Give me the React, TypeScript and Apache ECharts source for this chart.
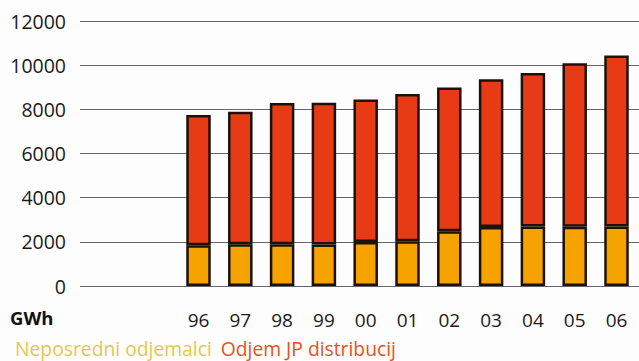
import React, { useEffect, useRef } from "react";
import * as echarts from "echarts";

const years = ["96", "97", "98", "99", "00", "01", "02", "03", "04", "05", "06"];
const neposredni = [1840, 1890, 1890, 1880, 1990, 2030, 2480, 2670, 2690, 2680, 2700];
const odjemJP = [5900, 6000, 6400, 6420, 6450, 6660, 6510, 6690, 6950, 7410, 7740];
const yTicks = [0, 2000, 4000, 6000, 8000, 10000, 12000];
const unitLabel = "GWh";
const seriesNames = ["Neposredni odjemalci", "Odjem JP distribucij"];

export default function App() {
  const ref = useRef<HTMLDivElement>(null);
  useEffect(() => {
    if (!ref.current) return;
    const chart = echarts.init(ref.current, null, { renderer: "svg" });
    const font = "'Open Sans', sans-serif";
    const yMax = yTicks[yTicks.length - 1];
    chart.setOption({
      animation: false,
      backgroundColor: "#fdfdfd",
      textStyle: { fontFamily: font },
      grid: [
        { left: 80, right: 0, top: 21, bottom: 75 },
        { left: 177.6, right: 1.6, top: 21, bottom: 75 },
      ],
      legend: {
        left: 10,
        top: 338,
        padding: 0,
        itemWidth: 0,
        itemHeight: 0,
        itemGap: 4,
        selectedMode: false,
        data: [
          { name: seriesNames[0], icon: "none", textStyle: { color: "#e3c84e" } },
          { name: seriesNames[1], icon: "none", textStyle: { color: "#e6521f" } },
        ],
        textStyle: { fontFamily: font, fontSize: 19.3, lineHeight: 20, padding: [0, 0, 0, 0] },
      },
      xAxis: [
        { type: "category", gridIndex: 0, data: years, show: false },
        {
          type: "category",
          gridIndex: 1,
          data: years,
          axisLine: { show: false },
          axisTick: { show: false },
          axisLabel: { color: "#1a1a1a", fontSize: 19, fontFamily: font, margin: 24 },
        },
      ],
      yAxis: [
        {
          type: "value",
          gridIndex: 0,
          min: 0,
          max: yMax,
          interval: 2000,
          axisLine: { show: false },
          axisTick: { show: false },
          axisLabel: {
            color: "#1a1a1a",
            fontSize: 19.5,
            fontFamily: font,
            margin: 14,
            formatter: (v: number) => String(v),
          },
          splitLine: { lineStyle: { color: "#66646c", width: 1 } },
        },
        {
          type: "value",
          gridIndex: 1,
          min: 0,
          max: yMax,
          interval: 2000,
          show: false,
          splitLine: { show: false },
        },
      ],
      graphic: [
        {
          type: "text",
          left: 10,
          top: 308,
          style: { text: unitLabel, fontFamily: font, fontWeight: "bold", fontSize: 18.5, fill: "#111" },
        },
      ],
      series: [
        {
          name: seriesNames[0],
          type: "bar",
          stack: "total",
          xAxisIndex: 1,
          yAxisIndex: 1,
          barWidth: 24.5,
          data: neposredni,
          itemStyle: { color: "#f6a300", borderColor: "#1c1208", borderWidth: 2.5 },
        },
        {
          name: seriesNames[1],
          type: "bar",
          stack: "total",
          xAxisIndex: 1,
          yAxisIndex: 1,
          barWidth: 24.5,
          data: odjemJP,
          itemStyle: { color: "#e63b14", borderColor: "#1c1208", borderWidth: 2.5 },
        },
      ],
    });
    return () => chart.dispose();
  }, []);
  return <div ref={ref} style={{ width: 639, height: 361, position: "absolute", left: 0, top: 0 }} />;
}
